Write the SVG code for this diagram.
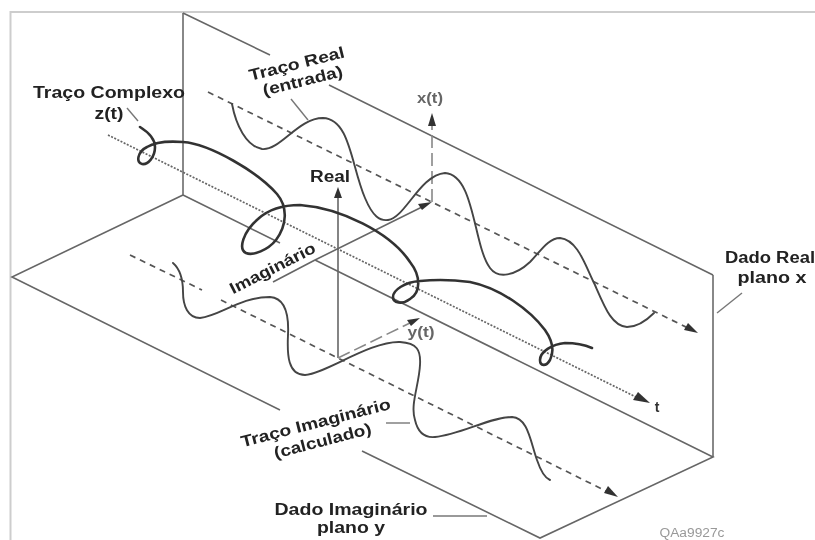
<svg xmlns="http://www.w3.org/2000/svg" width="815" height="540" viewBox="0 0 815 540">
<style>
.frame{fill:none;stroke:#cdcdcd;stroke-width:2}
.wall{fill:none;stroke:#666;stroke-width:1.6}
.edge{fill:none;stroke:#888;stroke-width:2}
.lead{fill:none;stroke:#777;stroke-width:1.4}
.dash{fill:none;stroke:#555;stroke-width:1.7;stroke-dasharray:6 5}
.dot{fill:none;stroke:#666;stroke-width:1.7;stroke-dasharray:2 1.5}
.longdash{fill:none;stroke:#888;stroke-width:1.6;stroke-dasharray:13 5}
.axis{fill:none;stroke:#666;stroke-width:1.6}
.trace{fill:none;stroke:#444;stroke-width:1.9;stroke-linecap:round}
.complex{fill:none;stroke:#333;stroke-width:2.6;stroke-linecap:round}
.head{fill:#333}
text{font-family:"Liberation Sans",Arial,sans-serif;font-weight:bold;fill:#222;text-anchor:middle}
.big{font-size:16px}
.small{font-size:14px;fill:#666}
.tiny{font-size:12px;fill:#999;font-weight:normal}
</style>
<defs>
<filter id="soft" x="-5%" y="-5%" width="110%" height="110%"><feGaussianBlur stdDeviation="0.45"/></filter>
</defs>
<rect width="815" height="540" fill="#fff"/>
<g filter="url(#soft)">
<g id="frame">
<path class="frame" d="M815 12H10.500V540"/>
</g>
<g id="planes">
<path class="edge" d="M183 13V195"/>
<path class="edge" d="M713 275V457"/>
<path class="wall" d="M183 13L270 55M329 85L713 275"/>
<path class="wall" d="M183 195L12 277L280 410"/>
<path class="wall" d="M183 195L280 243M315 260L713 457L540 538L362 451"/>
</g>
<g id="connectors">
<path class="dash" d="M208 92L690 329"/>
<path class="head" d="M698 333L684 330L688 323Z"/>
<path class="dash" d="M130 255L202 290M221 300L610 493"/>
<path class="head" d="M618 497L604 493L608 486Z"/>
<path class="dot" d="M108 135L640 399"/>
<path class="head" d="M650 403L633 400L638 392Z"/>
<path class="axis" d="M338 197V358"/>
<path class="head" d="M338 187L342 198H334Z"/>
<path class="longdash" d="M338 358L412 322"/>
<path class="head" d="M420 318L411 326L407 320Z"/>
<path class="axis" d="M273 282L315 260M315 260L424 206"/>
<path class="head" d="M432 202L422 210L418 204Z"/>
<path class="longdash" d="M432 202V122"/>
<path class="head" d="M432 113L436 126H428Z"/>
<path class="lead" d="M127 108L138 121"/>
<path class="lead" d="M291 99L308 120"/>
<path class="lead" d="M386 423H410"/>
<path class="lead" d="M433 516H487"/>
<path class="lead" d="M742 293L717 313"/>
</g>
<g id="traces">
<path class="trace" d="M232 104C236 125 246 146 262 149C280 151 298 118 323 118C350 119 351 165 365 198C373 217 380 221 388 220C405 218 420 175 445 173C475 175 473 245 490 268C498 279 515 276 530 262C540 252 548 238 560 238C578 240 585 265 595 285C605 308 612 326 627 327C638 327 648 319 654 313"/>
<path class="trace" d="M173 263C181 270 183 280 183 292C183 306 188 318 200 318C220 316 240 297 270 297C285 298 289 315 288 335C287 355 288 375 305 375C325 374 370 341 400 342C417 343 421 350 420 365C419 385 410 405 415 420C418 433 425 438 435 437C460 435 490 417 512 417C528 418 530 440 537 460C541 472 545 478 550 480"/>
<path class="complex" d="M140 127C148 132 155 138 155 147C155 157 148 165 142 164C136 163 137 152 147 147C155 142 170 141 183 142C210 144 258 172 277 194C288 207 287 225 276 240C268 250 253 256 246 253C238 249 243 232 258 219C270 208 285 205 300 205C340 208 390 232 410 262C421 276 421 292 410 299C402 305 393 303 393 297C393 290 405 282 420 281C440 279 455 280 470 282C500 288 530 310 545 330C552 340 555 350 550 360C546 367 540 366 540 360C540 352 552 344 565 343C575 343 585 345 592 348"/>
</g>
<g id="labels">
<text class="big" x="109" y="98" textLength="152" lengthAdjust="spacingAndGlyphs">Traço Complexo</text>
<text class="big" x="109" y="119" textLength="29" lengthAdjust="spacingAndGlyphs">z(t)</text>
<text class="big" transform="translate(298 69) rotate(-14)" textLength="98" lengthAdjust="spacingAndGlyphs">Traço Real</text>
<text class="big" transform="translate(304 86) rotate(-14)" textLength="82" lengthAdjust="spacingAndGlyphs">(entrada)</text>
<text class="big" x="330" y="182" textLength="40" lengthAdjust="spacingAndGlyphs">Real</text>
<text class="big" transform="translate(275 273) rotate(-27)" textLength="94" lengthAdjust="spacingAndGlyphs">Imaginário</text>
<text class="small" x="430" y="103" textLength="26" lengthAdjust="spacingAndGlyphs">x(t)</text>
<text class="small" x="421" y="337" textLength="27" lengthAdjust="spacingAndGlyphs">y(t)</text>
<text class="small" x="657" y="412" style="fill:#333">t</text>
<text class="big" x="770" y="263" textLength="90" lengthAdjust="spacingAndGlyphs">Dado Real</text>
<text class="big" x="772" y="283" textLength="69" lengthAdjust="spacingAndGlyphs">plano x</text>
<text class="big" transform="translate(317 428) rotate(-14.500)" textLength="154" lengthAdjust="spacingAndGlyphs">Traço Imaginário</text>
<text class="big" transform="translate(324 446) rotate(-14.500)" textLength="100" lengthAdjust="spacingAndGlyphs">(calculado)</text>
<text class="big" x="351" y="515" textLength="153" lengthAdjust="spacingAndGlyphs">Dado Imaginário</text>
<text class="big" x="351" y="533" textLength="68" lengthAdjust="spacingAndGlyphs">plano y</text>
<text class="tiny" x="692" y="537" textLength="65" lengthAdjust="spacingAndGlyphs">QAa9927c</text>
</g>
</g>
</svg>
